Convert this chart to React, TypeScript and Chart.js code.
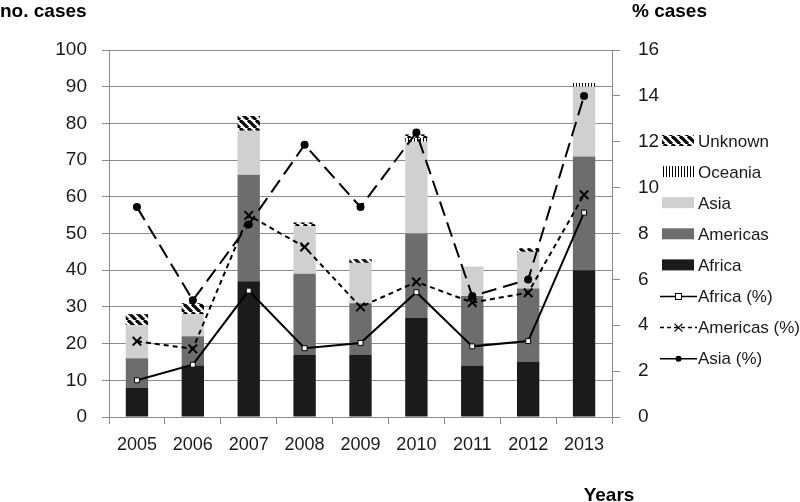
import React, { useEffect, useRef } from "react";
import { Chart, registerables } from "chart.js";

Chart.register(...registerables);

const years = ["2005", "2006", "2007", "2008", "2009", "2010", "2011", "2012", "2013"];
const africa = [8, 14, 37, 17, 17, 27, 14, 15, 40];
const americas = [8, 8, 29, 22, 14, 23, 19, 20, 31];
const asia = [9, 6, 12, 13, 11, 25, 8, 10, 19];
const oceania = [0, 0, 0, 0, 0, 1, 0, 0, 1];
const unknown = [3, 3, 4, 1, 1, 1, 0, 1, 0];
const africaPct = [1.6, 2.28, 5.51, 3.0, 3.23, 5.44, 3.08, 3.31, 8.91];
const americasPct = [3.3, 2.97, 8.79, 7.41, 4.8, 5.89, 4.99, 5.42, 9.69];
const asiaPct = [9.15, 5.09, 8.39, 11.87, 9.15, 12.4, 5.27, 5.99, 14.0];

const COL_AFRICA = "#1b1b1b";
const COL_AMERICAS = "#6d6d6d";
const COL_ASIA = "#d0d0d0";
const GRID = "#8c8c8c";
const FONT = "'Liberation Sans', Arial, sans-serif";

function makeDiagPattern(ctx: CanvasRenderingContext2D): CanvasPattern {
  const c = document.createElement("canvas");
  c.width = 8;
  c.height = 8;
  const g = c.getContext("2d")!;
  g.fillStyle = "#ffffff";
  g.fillRect(0, 0, 8, 8);
  g.strokeStyle = "#000000";
  g.lineWidth = 3.2;
  for (const k of [-8, 0, 8]) {
    g.beginPath();
    g.moveTo(k, 0);
    g.lineTo(k + 8, 8);
    g.stroke();
  }
  return ctx.createPattern(c, "repeat")!;
}

function makeVertPattern(ctx: CanvasRenderingContext2D): CanvasPattern {
  const c = document.createElement("canvas");
  c.width = 3;
  c.height = 2;
  const g = c.getContext("2d")!;
  g.fillStyle = "#ffffff";
  g.fillRect(0, 0, 3, 2);
  g.fillStyle = "#000000";
  g.fillRect(0, 0, 1, 2);
  return ctx.createPattern(c, "repeat")!;
}

export default function App() {
  const ref = useRef<HTMLCanvasElement | null>(null);

  useEffect(() => {
    const canvas = ref.current!;
    const ctx0 = canvas.getContext("2d")!;
    const diag = makeDiagPattern(ctx0);
    const vert = makeVertPattern(ctx0);

    const legendItems = [
      { label: "Unknown", kind: "box", fill: diag },
      { label: "Oceania", kind: "box", fill: vert },
      { label: "Asia", kind: "box", fill: COL_ASIA },
      { label: "Americas", kind: "box", fill: COL_AMERICAS },
      { label: "Africa", kind: "box", fill: COL_AFRICA },
      { label: "Africa (%)", kind: "line", dash: [] as number[], marker: "rect" },
      { label: "Americas (%)", kind: "line", dash: [4, 3], marker: "cross" },
      { label: "Asia (%)", kind: "line", dash: [], marker: "circle" },
    ];

    const overlay = {
      id: "overlay",
      afterDraw(chart: any) {
        const ctx: CanvasRenderingContext2D = chart.ctx;
        ctx.save();
        ctx.fillStyle = "#000";
        ctx.font = `bold 19px ${FONT}`;
        ctx.textBaseline = "middle";
        ctx.textAlign = "left";
        ctx.fillText("no. cases", 0, 12);
        ctx.fillText("% cases", 632, 12);
        ctx.textBaseline = "alphabetic";
        ctx.textAlign = "center";
        ctx.fillText("Years", 609, 501);

        ctx.font = `17px ${FONT}`;
        ctx.textAlign = "left";
        ctx.textBaseline = "middle";
        legendItems.forEach((it: any, i: number) => {
          const y = 141 + i * 31.1;
          if (it.kind === "box") {
            ctx.fillStyle = it.fill;
            ctx.fillRect(662, y - 6, 32, 11);
          } else {
            ctx.strokeStyle = "#000";
            ctx.lineWidth = 1.5;
            ctx.setLineDash(it.dash);
            ctx.beginPath();
            ctx.moveTo(660, y);
            ctx.lineTo(697, y);
            ctx.stroke();
            ctx.setLineDash([]);
            const cx = 678.5;
            if (it.marker === "rect") {
              ctx.fillStyle = "#fff";
              ctx.fillRect(cx - 3, y - 3, 6, 6);
              ctx.lineWidth = 1;
              ctx.strokeRect(cx - 3, y - 3, 6, 6);
            } else if (it.marker === "cross") {
              ctx.lineWidth = 1.3;
              ctx.beginPath();
              ctx.moveTo(cx - 4, y - 4);
              ctx.lineTo(cx + 4, y + 4);
              ctx.moveTo(cx + 4, y - 4);
              ctx.lineTo(cx - 4, y + 4);
              ctx.stroke();
            } else {
              ctx.fillStyle = "#000";
              ctx.beginPath();
              ctx.arc(cx, y, 3, 0, Math.PI * 2);
              ctx.fill();
            }
          }
          ctx.fillStyle = "#1a1a1a";
          ctx.fillText(it.label, 698, y + 1);
        });
        ctx.restore();
      },
    };

    const barBase = { type: "bar", yAxisID: "y", stack: "s", order: 2, barPercentage: 0.4, categoryPercentage: 1, borderWidth: 0 };

    const chart = new Chart(canvas, {
      type: "bar",
      data: {
        labels: years,
        datasets: [
          { ...barBase, label: "Africa", data: africa, backgroundColor: COL_AFRICA },
          { ...barBase, label: "Americas", data: americas, backgroundColor: COL_AMERICAS },
          { ...barBase, label: "Asia", data: asia, backgroundColor: COL_ASIA },
          { ...barBase, label: "Oceania", data: oceania, backgroundColor: vert },
          { ...barBase, label: "Unknown", data: unknown, backgroundColor: diag },
          {
            type: "line", label: "Africa (%)", data: africaPct, yAxisID: "y1", order: 0,
            borderColor: "#000", borderWidth: 2, backgroundColor: "#fff",
            pointStyle: "rect", pointRadius: 3.5, pointBorderWidth: 1, pointBorderColor: "#000", pointBackgroundColor: "#fff",
          },
          {
            type: "line", label: "Americas (%)", data: americasPct, yAxisID: "y1", order: 0,
            borderColor: "#000", borderWidth: 2, borderDash: [5, 4],
            pointStyle: "crossRot", pointRadius: 6, pointBorderWidth: 2, pointBorderColor: "#000",
          },
          {
            type: "line", label: "Asia (%)", data: asiaPct, yAxisID: "y1", order: 0,
            borderColor: "#000", borderWidth: 2, borderDash: [15, 7],
            pointStyle: "circle", pointRadius: 4, pointBorderWidth: 0, pointBackgroundColor: "#000",
          },
        ] as any,
      },
      options: {
        animation: false,
        responsive: false,
        maintainAspectRatio: false,
        layout: { padding: { top: 50, left: 0, right: 0, bottom: 0 } },
        plugins: { legend: { display: false }, tooltip: { enabled: false } },
        scales: {
          x: {
            stacked: true,
            grid: { offset: true, drawOnChartArea: false, drawTicks: true, tickLength: 7, color: GRID },
            border: { color: GRID },
            ticks: { color: "#1a1a1a", font: { family: FONT, size: 18 }, padding: 10, maxRotation: 0 },
            afterFit(s: any) { s.height = 85; },
          },
          y: {
            stacked: true,
            position: "left",
            min: 0, max: 100,
            ticks: { stepSize: 10, color: "#1a1a1a", font: { family: FONT, size: 19 }, padding: 15 },
            grid: { color: GRID, tickLength: 7, drawTicks: true },
            border: { color: GRID },
            afterFit(s: any) { s.width = 109; },
          },
          y1: {
            position: "right",
            min: 0, max: 16,
            ticks: { stepSize: 2, color: "#1a1a1a", font: { family: FONT, size: 19 }, padding: 18 },
            grid: { drawOnChartArea: false, color: GRID, tickLength: 8, drawTicks: true },
            border: { color: GRID },
            afterFit(s: any) { s.width = 188; },
          },
        },
      } as any,
      plugins: [overlay],
    });
    return () => chart.destroy();
  }, []);

  return (
    <div style={{ position: "absolute", left: 0, top: 0, width: 800, height: 502, background: "#fff" }}>
      <canvas ref={ref} width={800} height={502} style={{ display: "block", width: 800, height: 502 }} />
    </div>
  );
}
